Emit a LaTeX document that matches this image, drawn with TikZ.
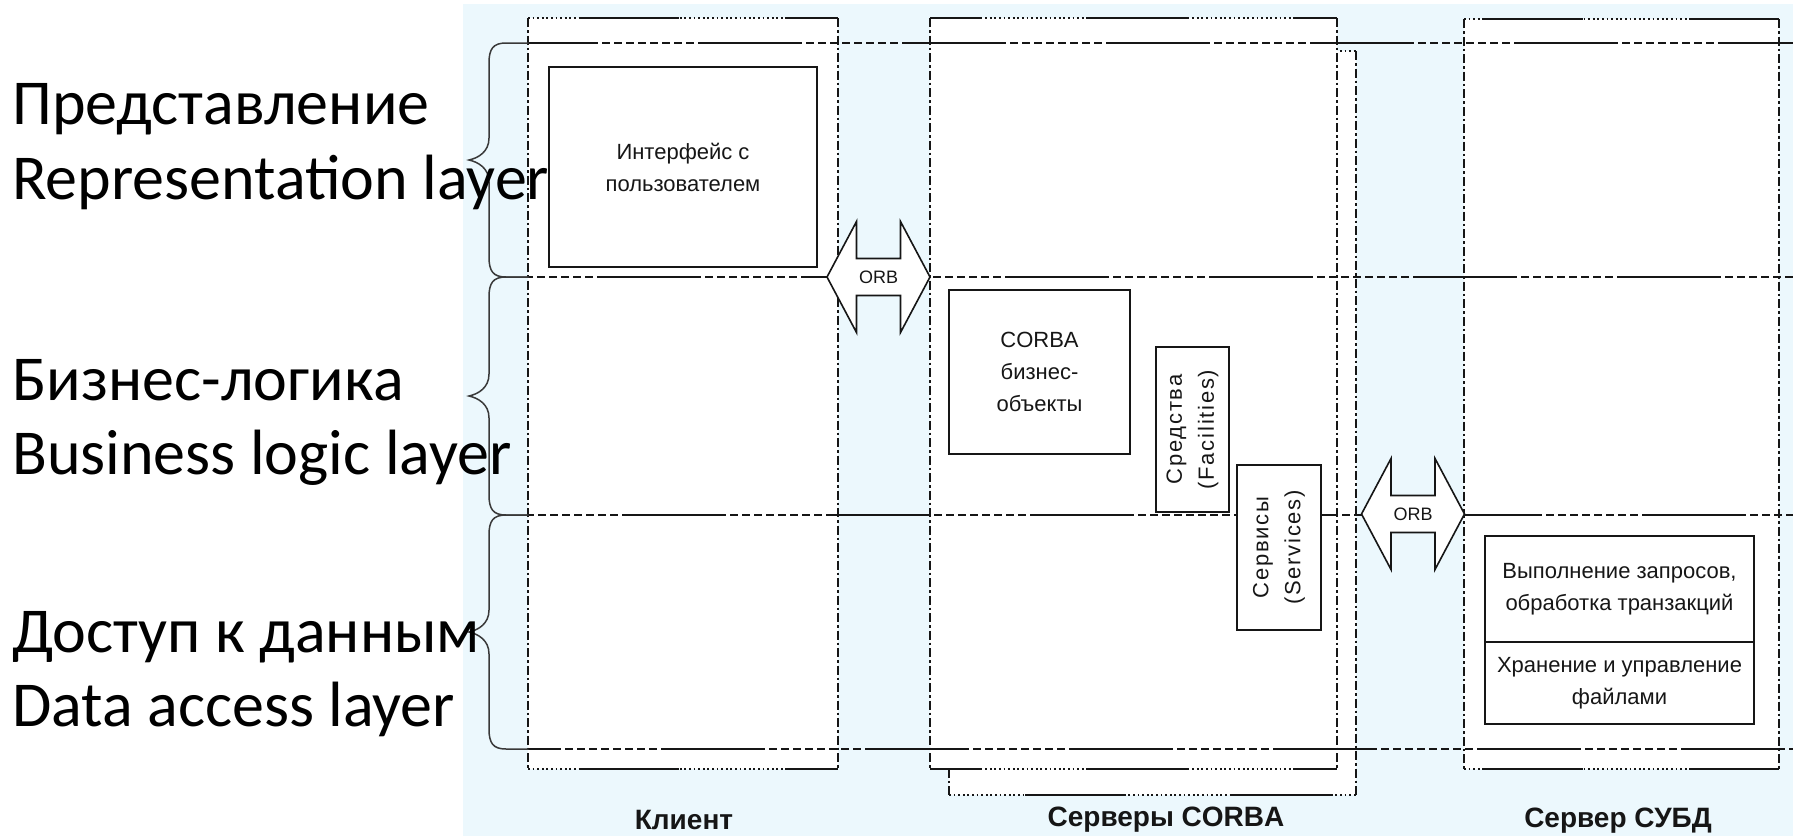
\documentclass[tikz,border=0pt]{standalone}
\usepackage{fontspec}
\setmainfont{Carlito}
\newfontfamily\arialfont{Liberation Sans}
\newfontfamily\arialspaced[LetterSpace=8]{Liberation Sans}
\definecolor{paneblue}{RGB}{236,248,253}
\definecolor{ink}{RGB}{22,22,22}
\newcommand\layerfont{\fontsize{64}{76}\selectfont}
\newcommand\diagboxfont{\arialfont\fontsize{22}{32}\selectfont}
\newcommand\diagspacedfont{\arialspaced\fontsize{22}{32}\selectfont}
\newcommand\tierfont{\arialfont\bfseries\fontsize{28}{32}\selectfont}
\newcommand\orbfont{\arialfont\fontsize{18}{20}\selectfont}

\begin{document}
\begin{tikzpicture}[x=1pt,y=-1pt,
  layerline/.style={line width=1.8pt, draw=ink,
    dash pattern=on 104pt off 4pt on 8pt off 4pt on 8pt off 4pt on 8pt off 4pt
      on 8pt off 4pt on 8pt off 4pt on 8pt off 4pt on 8pt off 4pt on 8pt off 4pt},
  frameside/.style={line width=1.9pt, draw=ink, dash pattern=on 9pt off 3pt on 2.5pt off 3pt},
  framedots/.style={line width=1.7pt, draw=ink, dash pattern=on 1.8pt off 2.8pt},
  framedash/.style={line width=2pt, draw=ink, dash pattern=on 100pt off 106pt},
  box/.style={draw=ink, line width=2pt, fill=white, inner sep=0pt, outer sep=0pt,
    align=center, font=\diagboxfont, text=ink},
  sidebox/.style={box, rotate=90, font=\diagspacedfont},
  layertext/.style={anchor=base west, inner sep=0pt, font=\layerfont, text=black},
  tiertext/.style={inner sep=0pt, font=\tierfont, text=ink},
  bracepath/.style={line width=1.5pt, draw=ink!85, line cap=round},
  orbarrow/.pic={
    \draw[line width=1.6pt, draw=ink, fill=white, line join=miter]
      (-51.5,0) -- (-22,-55.5) -- (-22,-18.5) -- (22,-18.5) -- (22,-55.5) -- (51.5,0)
      -- (22,55.5) -- (22,18.5) -- (-22,18.5) -- (-22,55.5) -- cycle;
    \node[inner sep=0pt, font=\orbfont, text=ink] (-label) at (0,0) {ORB};
  }
]
\useasboundingbox (0,0) rectangle (1793,836);
\fill[white] (0,0) rectangle (1793,836);
\fill[paneblue] (463,4) rectangle (1793,836);

% tier frames: x1/y1/x2/y2/phase of the long strokes on top and bottom edges
\foreach \xa/\ya/\xb/\yb/\ph in {949/51/1356/795/130, 528/18/838/769/155,
    930/18/1337/769/48, 1464/19/1779/769/187} {
  \fill[white] (\xa,\ya) rectangle (\xb,\yb);
  \draw[frameside] (\xa,\ya) -- (\xa,\yb);
  \draw[frameside] (\xb,\ya) -- (\xb,\yb);
  \draw[framedots] (\xa,\ya) -- (\xb,\ya);
  \draw[framedots] (\xa,\yb) -- (\xb,\yb);
  \draw[framedash, dash phase=\ph pt] (\xa,\ya) -- (\xb,\ya);
  \draw[framedash, dash phase=\ph pt] (\xa,\yb) -- (\xb,\yb);
}

% layer boundaries
\foreach \yy/\ph in {43/34, 277/135, 515/110, 749/71}
  \draw[layerline, dash phase=\ph pt] (528,\yy) -- (1793,\yy);

% layer braces
\foreach \ya/\yb in {43/277, 277/515, 515/749} {
  \pgfmathsetmacro\ym{(\ya+\yb)/2}
  \draw[bracepath] (528,\ya) -- (506,\ya)
    .. controls (493,\ya) and (489,\ya+6) .. (489,\ya+20)
    -- (489,\ym-22) .. controls (489,\ym-8) and (478,\ym-2) .. (469,\ym)
    .. controls (478,\ym+2) and (489,\ym+8) .. (489,\ym+22)
    -- (489,\yb-20) .. controls (489,\yb-6) and (493,\yb) .. (506,\yb) -- (528,\yb);
}

% components
\node[box, minimum width=268pt, minimum height=200pt] (ui) at (683,167)
  {Интерфейс с\\пользователем};
\node[box, minimum width=181pt, minimum height=164pt] (bo) at (1039.5,372)
  {CORBA\\бизнес-\\объекты};
\node[sidebox, minimum width=165pt, minimum height=73pt] (fac) at (1192.5,429.5)
  {Средства\\(Facilities)};
\node[sidebox, minimum width=165pt, minimum height=84pt] (svc) at (1279,547.5)
  {Сервисы\\(Services)};
\node[box, minimum width=269pt, minimum height=106pt] (exec) at (1619.5,589)
  {Выполнение запросов,\\обработка транзакций};
\node[box, minimum width=269pt, minimum height=82pt, anchor=north] (store) at (exec.south)
  {Хранение и управление\\файлами};

% ORB links between tiers
\pic (orbA) at (878.5,277) {orbarrow};
\pic (orbB) at (1413,514) {orbarrow};

% tier captions
\node[tiertext] (client) at (684,820) {Клиент};
\node[tiertext] (corba) at (1166,820) {Серверы CORBA};
\node[tiertext] (dbms) at (1618,821) {Сервер СУБД};

% layer names
\node[layertext] (l1a) at (12,124) {Представление};
\node[layertext] (l1b) at (12,199) {Representation layer};
\node[layertext] (l2a) at (12,400) {Бизнес-логика};
\node[layertext] (l2b) at (12,474) {Business logic layer};
\node[layertext] (l3a) at (12,652) {Доступ к данным};
\node[layertext] (l3b) at (12,726) {Data access layer};
\end{tikzpicture}
\end{document}
